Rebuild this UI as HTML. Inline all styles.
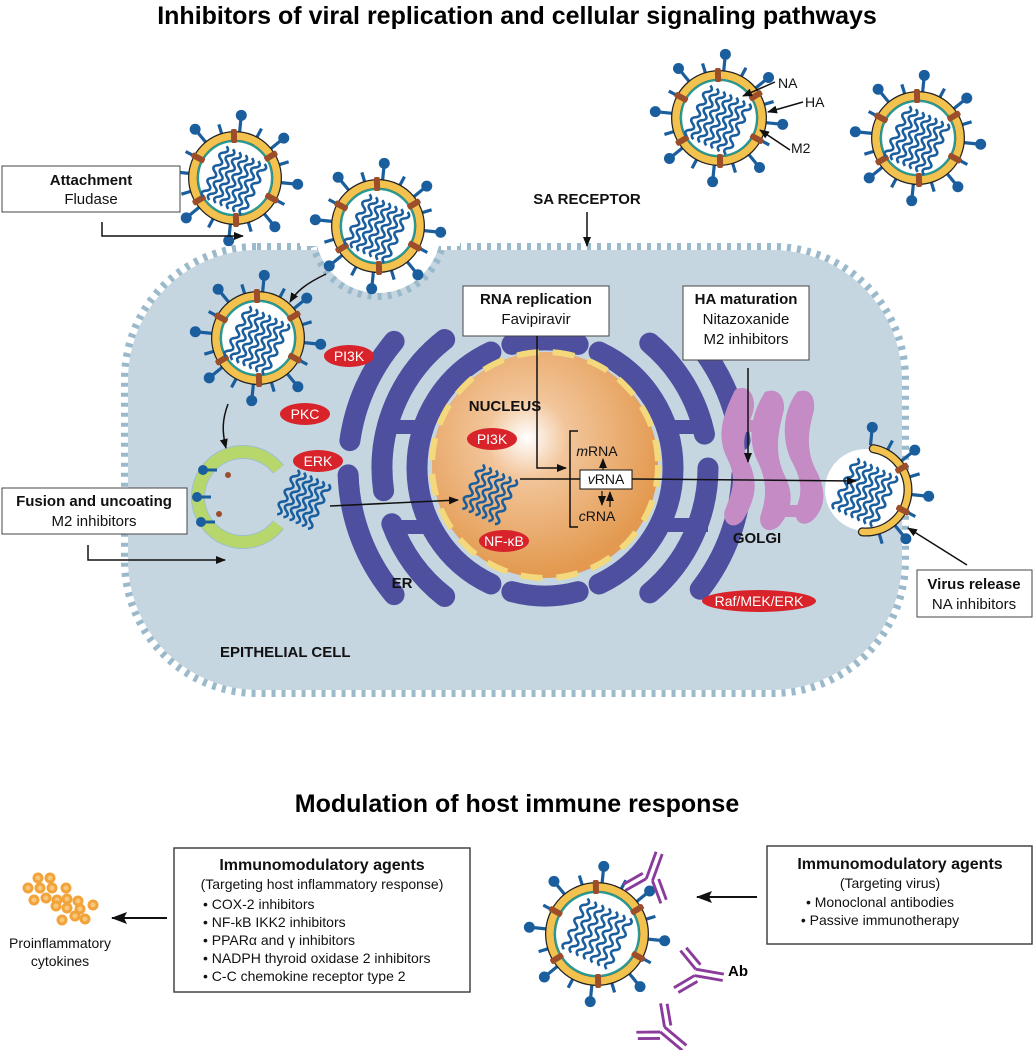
<!DOCTYPE html>
<html><head><meta charset="utf-8"><style>
html,body{margin:0;padding:0;background:#fff}
svg{display:block}
text{font-family:"Liberation Sans",Arial,sans-serif}
</style></head><body>
<svg id="s" width="1034" height="1050" viewBox="0 0 1034 1050" xmlns="http://www.w3.org/2000/svg">
<defs>
<radialGradient id="ng" cx="0.42" cy="0.38" r="0.6">
<stop offset="0" stop-color="#ffffff"/><stop offset="0.3" stop-color="#f2c59a"/><stop offset="1" stop-color="#e39a50"/>
</radialGradient>
<marker id="ah" markerWidth="10" markerHeight="8" refX="9" refY="4" orient="auto" markerUnits="userSpaceOnUse">
<path d="M0,0 L10,4 L0,8 Z" fill="#111"/></marker>
<marker id="ahb" markerWidth="16" markerHeight="12" refX="15" refY="6" orient="auto" markerUnits="userSpaceOnUse">
<path d="M0,0 L16,6 L0,12 L3,6 Z" fill="#111"/></marker>
</defs>
<text x="517" y="24" font-size="25" font-weight="bold" text-anchor="middle">Inhibitors of viral replication and cellular signaling pathways</text>
<rect x="125" y="247" width="780" height="446" rx="132" fill="none" stroke="#9ab9cb" stroke-width="8" stroke-dasharray="4 6"/>
<rect x="128" y="250" width="774" height="440" rx="130" fill="#c6d6e1"/>
<circle cx="378" cy="230" r="66" fill="none" stroke="#9ab9cb" stroke-width="8" stroke-dasharray="4 6"/>
<circle cx="378" cy="230" r="63" fill="#fff"/>
<rect x="300" y="150" width="160" height="96" fill="#fff"/>
<g id="dyn"></g>
<g font-size="15" text-anchor="middle" fill="#111">
<rect x="2" y="166" width="178" height="46" fill="#fff" stroke="#444"/>
<text x="91" y="185" font-weight="bold">Attachment</text><text x="91" y="204">Fludase</text>
<rect x="463" y="286" width="146" height="50" fill="#fff" stroke="#444"/>
<text x="536" y="304" font-weight="bold">RNA replication</text><text x="536" y="324">Favipiravir</text>
<rect x="683" y="286" width="126" height="74" fill="#fff" stroke="#444"/>
<text x="746" y="304" font-weight="bold">HA maturation</text><text x="746" y="324">Nitazoxanide</text><text x="746" y="344">M2 inhibitors</text>
<rect x="2" y="488" width="185" height="46" fill="#fff" stroke="#444"/>
<text x="94" y="506" font-weight="bold">Fusion and uncoating</text><text x="94" y="526">M2 inhibitors</text>
<rect x="917" y="570" width="115" height="47" fill="#fff" stroke="#444"/>
<text x="974" y="589" font-weight="bold">Virus release</text><text x="974" y="609">NA inhibitors</text>
</g>
<g font-size="15" font-weight="bold" fill="#111">
<text x="587" y="204" text-anchor="middle">SA RECEPTOR</text>
<text x="505" y="411" text-anchor="middle">NUCLEUS</text>
<text x="402" y="588" text-anchor="middle">ER</text>
<text x="757" y="543" text-anchor="middle">GOLGI</text>
<text x="220" y="657">EPITHELIAL CELL</text>
</g>
<g fill="none" stroke="#111" stroke-width="1.5">
<path d="M102,222 V236 H243" marker-end="url(#ah)"/>
<path d="M587,212 V246" marker-end="url(#ah)"/>
<path d="M537,336 V468 H566" marker-end="url(#ah)"/>
<path d="M748,368 V462" marker-end="url(#ah)"/>
<path d="M88,545 V560 H225" marker-end="url(#ah)"/>
<path d="M967,565 L908,528" marker-end="url(#ah)"/>
<path d="M330,506 L458,500" marker-end="url(#ah)"/>
<path d="M520,479 L580,479 M632,479 L856,481" marker-end="url(#ah)"/>
<path d="M326,274 C305,284 296,292 290,302" marker-end="url(#ah)"/>
<path d="M228,404 C222,420 222,432 226,448" marker-end="url(#ah)"/>
<path d="M578,431 H570 V527 H578"/>
<path d="M775,82 L743,96" marker-end="url(#ah)"/><path d="M803,102 L768,112" marker-end="url(#ah)"/><path d="M790,150 L760,130" marker-end="url(#ah)"/>
</g>
<g font-size="14" fill="#111">
<text x="778" y="88">NA</text><text x="805" y="107">HA</text><text x="791" y="153">M2</text>
</g>
<rect x="580" y="470" width="52" height="19" fill="#fff" stroke="#111"/>
<g font-size="14" fill="#111" text-anchor="middle">
<text x="606" y="484"><tspan font-style="italic">v</tspan>RNA</text>
<text x="597" y="456"><tspan font-style="italic">m</tspan>RNA</text>
<text x="597" y="521"><tspan font-style="italic">c</tspan>RNA</text>
</g>
<g stroke="#111" stroke-width="1.2">
<path d="M603,470 V459" marker-end="url(#ah)"/>
<path d="M602,491 V505" marker-end="url(#ah)"/>
<path d="M610,507 V492" marker-end="url(#ah)"/>
</g>
<text x="517" y="812" font-size="25" font-weight="bold" text-anchor="middle">Modulation of host immune response</text>
<rect x="174" y="848" width="296" height="144" fill="#fff" stroke="#444" stroke-width="1.5"/>
<g font-size="14" fill="#111">
<text x="322" y="870" text-anchor="middle" font-weight="bold" font-size="16">Immunomodulatory agents</text>
<text x="322" y="889" text-anchor="middle">(Targeting host inflammatory response)</text>
<text x="203" y="909">• COX-2 inhibitors</text>
<text x="203" y="927">• NF-kB IKK2 inhibitors</text>
<text x="203" y="945">• PPARα and γ inhibitors</text>
<text x="203" y="963">• NADPH thyroid oxidase 2 inhibitors</text>
<text x="203" y="981">• C-C chemokine receptor type 2</text>
<text x="60" y="948" text-anchor="middle">Proinflammatory</text>
<text x="60" y="966" text-anchor="middle">cytokines</text>
</g>
<rect x="767" y="846" width="265" height="98" fill="#fff" stroke="#444" stroke-width="1.5"/>
<g font-size="14" fill="#111" text-anchor="middle">
<text x="900" y="869" font-weight="bold" font-size="16">Immunomodulatory agents</text>
<text x="890" y="888">(Targeting virus)</text>
<text x="880" y="907">• Monoclonal antibodies</text>
<text x="880" y="925">• Passive immunotherapy</text>
</g>
<text x="728" y="976" font-size="15" font-weight="bold">Ab</text>
<g fill="none" stroke="#111" stroke-width="2">
<path d="M167,918 H112" marker-end="url(#ahb)"/>
<path d="M757,897 H697" marker-end="url(#ahb)"/>
</g>
</svg>
<script>
var g=document.getElementById('dyn'),h='';
function P(a,r,cx,cy){return [cx+r*Math.cos(a),cy+r*Math.sin(a)];}
function arc(cx,cy,r,a1,a2,w,col,cap){a1*=Math.PI/180;a2*=Math.PI/180;var p=P(a1,r,cx,cy),q=P(a2,r,cx,cy);var l=(a2-a1)>Math.PI?1:0;
return '<path d="M'+p[0]+','+p[1]+' A'+r+','+r+' 0 '+l+' 1 '+q[0]+','+q[1]+'" fill="none" stroke="'+col+'" stroke-width="'+w+'" stroke-linecap="'+(cap||'round')+'"/>';}
function squig(cx,cy,w,hh,n,col){var s='';for(var i=0;i<n;i++){var x=cx-w/2+i*w/(n-1);var d='M'+x+','+(cy-hh/2);var k=0;for(var y=cy-hh/2;y<cy+hh/2-1;y+=7){k++;d+=' q'+(k%2?6:-6)+',3.5 0,7';}s+='<path d="'+d+'" fill="none" stroke="'+col+'" stroke-width="2.6" transform="rotate(25 '+cx+' '+cy+')"/>';}return s;}
function virus(cx,cy,R,partial){var s='';var b='#1b5e9e';var n=16;
for(var i=0;i<n;i++){var a=i*2*Math.PI/n+0.1;if(partial&&Math.cos(a)<0.05)continue;var p=P(a,R+3,cx,cy),q=P(a,R+(i%2?14:18),cx,cy);
s+='<line x1="'+p[0]+'" y1="'+p[1]+'" x2="'+q[0]+'" y2="'+q[1]+'" stroke="'+b+'" stroke-width="3.2"/>';
if(i%2==0){var c=P(a,R+21,cx,cy);s+='<circle cx="'+c[0]+'" cy="'+c[1]+'" r="5.5" fill="'+b+'"/>';}}
if(partial){s+='<circle cx="'+cx+'" cy="'+cy+'" r="'+(R-1)+'" fill="#fff"/>'+arc(cx,cy,R,-80,95,9,'#222')+arc(cx,cy,R,-80,95,6.5,'#f2c14e');}
else{s+='<circle cx="'+cx+'" cy="'+cy+'" r="'+R+'" fill="#fff" stroke="#222" stroke-width="10"/><circle cx="'+cx+'" cy="'+cy+'" r="'+R+'" fill="none" stroke="#f2c14e" stroke-width="7.5"/><circle cx="'+cx+'" cy="'+cy+'" r="'+(R-5)+'" fill="none" stroke="#2a9a95" stroke-width="2.2"/>';}
for(var j=0;j<6;j++){var a2=j*Math.PI/3+0.5;if(partial&&Math.cos(a2)<0.05)continue;var p2=P(a2,R,cx,cy);
s+='<rect x="'+(p2[0]-7)+'" y="'+(p2[1]-3)+'" width="14" height="6" rx="2" fill="#9c4e2a" transform="rotate('+(a2*180/Math.PI)+' '+p2[0]+' '+p2[1]+')"/>';}
s+=squig(cx,cy,R*1.0,R*1.2,7,b);return s;}
var E='#4f4fa0';var ncx=545,ncy=468;
[[128,[[115,245],[-65,65],[75,105],[255,285]]],[163,[[128,160],[172,232],[-50,-12],[0,50]]],[197,[[140,178],[188,220],[-38,-8],[2,38]]]].forEach(function(r){r[1].forEach(function(a){h+=arc(ncx,ncy,r[0],a[0],a[1],21,E);});});
h+='<rect x="378" y="420" width="40" height="14" fill="'+E+'"/><rect x="390" y="520" width="34" height="14" fill="'+E+'"/><rect x="672" y="420" width="40" height="14" fill="'+E+'"/><rect x="668" y="518" width="40" height="14" fill="'+E+'"/>';
h+='<circle cx="'+ncx+'" cy="'+(ncy-3)+'" r="113" fill="url(#ng)"/>';
h+='<circle cx="'+ncx+'" cy="'+(ncy-3)+'" r="113" fill="none" stroke="#f3d97c" stroke-width="6" stroke-dasharray="22 14"/>';
h+=squig(490,492,36,44,6,'#1b5e9e');
h+='<g fill="#c48bc4"><path d="M735,390 c14,-8 22,8 18,22 c-6,20 -14,28 -4,50 c10,22 6,38 -6,58 c-10,12 -22,2 -18,-10 c8,-20 12,-32 2,-52 c-10,-20 -6,-40 8,-68z"/><path d="M765,392 c14,-6 22,8 18,22 c-6,22 -8,42 2,62 c10,20 6,36 -6,50 c-12,10 -22,0 -18,-12 c6,-18 6,-34 -4,-54 c-10,-22 -6,-46 8,-68z"/><path d="M797,392 c14,-6 20,8 16,22 c-6,22 -6,40 4,58 c10,20 8,36 -4,48 c-12,10 -22,-2 -16,-14 c6,-16 4,-28 -6,-46 c-10,-22 -8,-50 6,-68z"/><rect x="745" y="420" width="28" height="12"/><rect x="775" y="505" width="28" height="12"/></g>';
h+=arc(243,497,45,38,322,14,'#9dbfcc','butt')+arc(243,497,45,38,322,12,'#b7d76c','butt');
[[213,470],[207,497],[211,522]].forEach(function(p){h+='<line x1="'+(p[0]-10)+'" y1="'+p[1]+'" x2="'+(p[0]+4)+'" y2="'+p[1]+'" stroke="#1b5e9e" stroke-width="3"/><circle cx="'+(p[0]-10)+'" cy="'+p[1]+'" r="5" fill="#1b5e9e"/>';});
h+='<circle cx="228" cy="475" r="3" fill="#9c4e2a"/><circle cx="219" cy="514" r="3" fill="#9c4e2a"/>';
h+=squig(304,497,34,44,6,'#1b5e9e');
h+=virus(235,178,42)+virus(378,226,42)+virus(258,338,42)+virus(719,118,43)+virus(918,138,42)+virus(597,934,47);
h+=virus(866,490,42,true);
function el(x,y,w,t){return '<ellipse cx="'+x+'" cy="'+y+'" rx="'+w/2+'" ry="11" fill="#d8232a"/><text x="'+x+'" y="'+(y+5)+'" fill="#fff" font-size="14" text-anchor="middle" font-family="Liberation Sans,sans-serif">'+t+'</text>';}
h+=el(349,356,50,'PI3K')+el(305,414,50,'PKC')+el(318,461,50,'ERK')+el(492,439,50,'PI3K')+el(504,541,50,'NF-κB')+el(759,601,114,'Raf/MEK/ERK');
[[38,878],[50,878],[28,888],[40,888],[52,888],[66,888],[34,900],[46,898],[57,900],[67,899],[78,901],[93,905],[56,906],[67,908],[80,909],[62,920],[75,916],[85,919]].forEach(function(p){h+='<circle cx="'+p[0]+'" cy="'+p[1]+'" r="5.5" fill="#f2a33a"/><circle cx="'+p[0]+'" cy="'+p[1]+'" r="2.5" fill="#f7c77a"/>';});
function ab(x,y,rot){return '<g transform="translate('+x+','+y+') rotate('+rot+') scale(1.3)" fill="none" stroke="#8a3b9c" stroke-width="2.2"><path d="M-2,0 V22 M3,0 V22 M-2,0 L-14,-14 M-6,3 L-17,-10 M3,0 L15,-14 M7,3 L18,-10"/></g>';}
h+=ab(650,880,200)+ab(695,973,-80)+ab(662,1030,-50);
g.innerHTML=h;
</script>
</body></html>
